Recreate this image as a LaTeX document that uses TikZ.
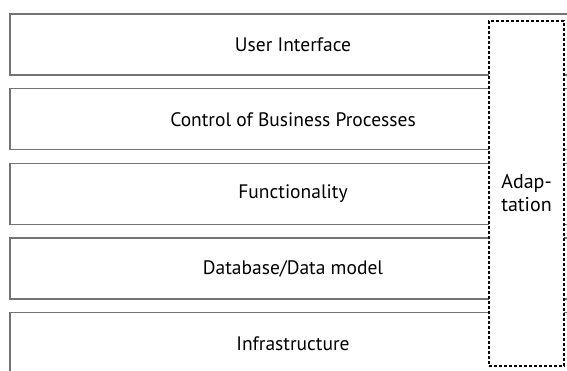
\documentclass[tikz,border=0pt]{standalone}
\usepackage{fontspec}
\setmainfont{PT Sans}
\usetikzlibrary{positioning}

\tikzset{
  layer/.style={draw=gray!90!black, line width=1.3pt, fill=white, minimum width=566, minimum height=61, inner sep=0pt, font=\fontsize{19.5}{23}\selectfont},
  adapt/.style={draw=black, line width=1.6pt, dash pattern=on 3pt off 2pt, fill=white, minimum width=75, minimum height=345, inner sep=0pt, align=center, font=\fontsize{20}{23}\selectfont}
}

\begin{document}
\begin{tikzpicture}[x=1pt,y=-1pt]
\useasboundingbox (0,0) rectangle (567,370);
\clip (0,0) rectangle (567,370);
\foreach \i/\t in {1/User Interface, 2/Control of Business Processes, 3/Functionality, 4/{Database/Data model}, 5/Infrastructure}
{
    \node[layer] (L\i) at (293, 44.5+74.7*\i-74.7) {\t};
}
\node[adapt] (A) at (526.5, 193.5) {Adap-\\tation};
\end{tikzpicture}
\end{document}
